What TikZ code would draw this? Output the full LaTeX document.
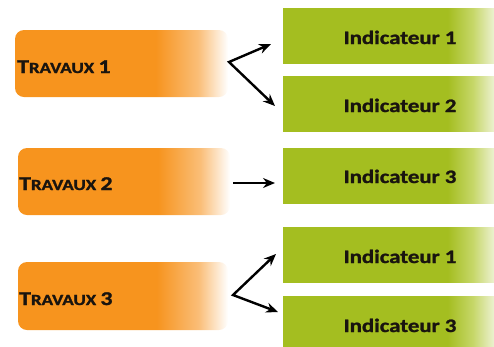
\documentclass[tikz,border=0pt]{standalone}
\usepackage{fontspec}
\usepackage{graphicx}
\setmainfont{Carlito}[BoldFeatures={FakeBold=1.2}]
\usetikzlibrary{arrows.meta}
\definecolor{orng}{RGB}{247,148,30}
\definecolor{orngl}{RGB}{250,190,120}
\definecolor{grn}{RGB}{164,190,32}
\definecolor{grnl}{RGB}{198,215,105}
\definecolor{grnpale}{RGB}{236,241,208}
\definecolor{txt}{RGB}{25,20,15}
\pgfdeclarehorizontalshading{orangefade}{100bp}{color(0bp)=(orng); color(25bp)=(orng); color(58bp)=(orng); color(68bp)=(orngl); color(75bp)=(white); color(100bp)=(white)}
\pgfdeclarehorizontalshading{greenfade}{100bp}{color(0bp)=(grn); color(25bp)=(grn); color(64bp)=(grn); color(70bp)=(grnl); color(75bp)=(grnpale); color(100bp)=(grnpale)}
\newcommand{\travtxt}[1]{\scalebox{1.22}[1]{\bfseries{\fontsize{19.5}{20}\selectfont T}{\fontsize{15.5}{16}\selectfont RAVAUX }{\fontsize{19.5}{20}\selectfont #1}}}
\newcommand{\indtxt}[1]{\scalebox{1.2}[1]{\bfseries\fontsize{19}{20}\selectfont Indicateur #1}}
\tikzset{
  travbox/.style={rectangle, rounded corners=9pt, shading=orangefade, draw=none, inner sep=0pt},
  indbox/.style={rectangle, shading=greenfade, draw=none, inner sep=0pt, minimum width=211pt, minimum height=55pt},
  travlabel/.style={anchor=base west, inner sep=0pt, text=txt},
  indlabel/.style={anchor=base, inner sep=0pt, text=txt},
  arr/.style={line width=2.4pt, black, {Stealth[length=12pt,width=10pt]}-{Stealth[length=12pt,width=10pt]}},
  arrone/.style={line width=2.4pt, black, -{Stealth[length=12pt,width=10pt]}}
}
\begin{document}
\begin{tikzpicture}[x=1pt,y=-1pt]
\useasboundingbox (0,0) rectangle (494,346);
% orange boxes
\node[travbox, minimum width=213pt, minimum height=67pt] (b1) at (121.5,63.5) {};
\node[travbox, minimum width=212pt, minimum height=67pt] (b2) at (124,181.5) {};
\node[travbox, minimum width=210pt, minimum height=68pt] (b3) at (123,296) {};
\node[travlabel] (l1) at (17,73) {\travtxt{1}};
\node[travlabel] (l2) at (19,190) {\travtxt{2}};
\node[travlabel] (l3) at (19,305) {\travtxt{3}};
% green boxes
\node[indbox] (g1) at (388.5,35.5) {};
\node[indbox] (g2) at (388.5,103.5) {};
\node[indbox] (g3) at (388.5,175.5) {};
\node[indbox] (g4) at (388.5,254.5) {};
\node[indbox] (g5) at (388.5,323.5) {};
\node[indlabel] (m1) at (400,44) {\indtxt{1}};
\node[indlabel] (m2) at (400,112) {\indtxt{2}};
\node[indlabel] (m3) at (400,183) {\indtxt{3}};
\node[indlabel] (m4) at (400,263) {\indtxt{1}};
\node[indlabel] (m5) at (400,332) {\indtxt{3}};
% arrows
\coordinate (j1) at (229,62);
\coordinate (t1a) at (271,44);
\coordinate (t1b) at (275,106);
\coordinate (j2) at (233,183);
\coordinate (t2) at (275,183);
\coordinate (j3) at (233,295);
\coordinate (t3a) at (276,254);
\coordinate (t3b) at (278,312);
\draw[arr, line join=miter] (t1a) -- (j1) -- (t1b);
\draw[arrone] (j2) -- (t2);
\draw[arr, line join=miter] (t3a) -- (j3) -- (t3b);
\end{tikzpicture}
\end{document}
